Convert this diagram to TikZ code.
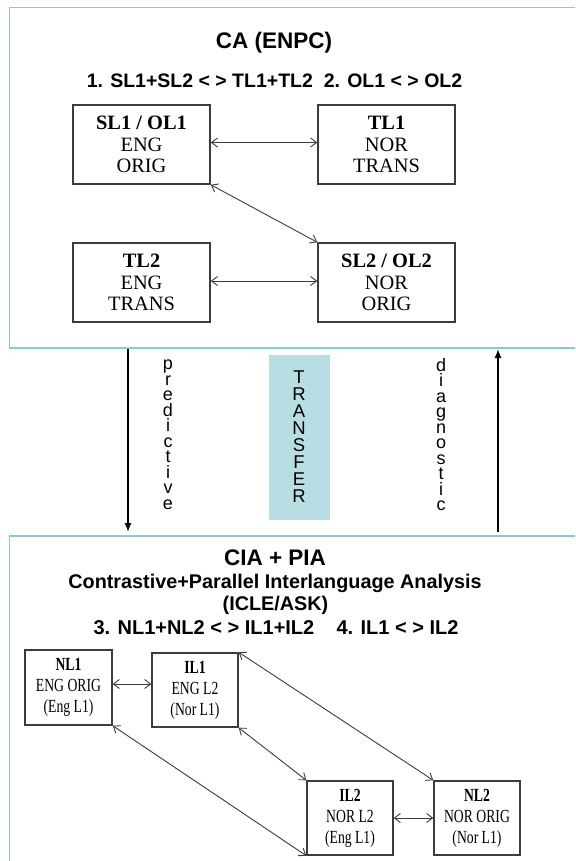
\documentclass[tikz,border=0pt]{standalone}
\usepackage{fontspec}
\setmainfont{Liberation Serif}
\setsansfont{Liberation Sans}
\newfontfamily\condserif[FakeStretch=0.74]{Liberation Serif}
\usetikzlibrary{arrows.meta,calc}
\definecolor{framec}{RGB}{140,202,207}
\definecolor{transc}{RGB}{183,223,227}
\definecolor{boxc}{RGB}{60,60,60}
\begin{document}
\begin{tikzpicture}[x=1pt,y=-1pt,
  frame/.style={draw=framec,line width=1.5pt},
  topbox/.style={draw=boxc,line width=1.5pt,minimum width=137pt,minimum height=79pt,inner sep=0pt,align=center,
    font=\fontsize{20.4}{21.5}\selectfont},
  botbox/.style={draw=boxc,line width=1.4pt,minimum width=86pt,minimum height=74pt,inner sep=0pt,align=center,
    font=\condserif\fontsize{18.5}{21}\selectfont},
  link/.style={draw=boxc,line width=0.9pt,{Straight Barb[length=6pt,width=9pt]}-{Straight Barb[length=6pt,width=9pt]}},
  bigarrow/.style={draw=black,line width=1.3pt,-{Latex[length=9pt,width=7pt]}},
  head/.style={font=\sffamily\bfseries\fontsize{22.5}{24}\selectfont,inner sep=0pt},
  sub/.style={font=\sffamily\bfseries\fontsize{19.8}{22}\selectfont,inner sep=0pt},
  vstack/.style={align=center,inner sep=0pt,font=\sffamily\fontsize{18}{15.5}\selectfont}
]
\useasboundingbox (0,0) rectangle (575,861);
\clip (0,0) rectangle (575,861);
\fill[white] (0,0) rectangle (575,861);
% frames
\draw[frame] (9.5,7.5) rectangle (600,348);
\draw[frame] (9.5,536) rectangle (600,900);
% top headings
\node[head] (tca) at (274,43) {CA (ENPC)};
\node[sub,font=\sffamily\bfseries\fontsize{19.5}{22}\selectfont] (tl1) at (274.5,81) {1. SL1+SL2 < > TL1+TL2\ \ 2. OL1 < > OL2};
% top boxes
\node[topbox] (SL1) at (141.5,144.5) {\textbf{SL1 / OL1}\\ENG\\ORIG};
\node[topbox] (TL1) at (386.5,144.5) {\textbf{TL1}\\NOR\\TRANS};
\node[topbox] (TL2) at (141.5,282.5) {\textbf{TL2}\\ENG\\TRANS};
\node[topbox] (SL2) at (386.5,282.5) {\textbf{SL2 / OL2}\\NOR\\ORIG};
\draw[link] ([yshift=2pt]SL1.east) -- ([yshift=2pt]SL1.east -| TL1.west);
\draw[link] (SL1.south east) -- (SL2.north west);
\draw[link] ([yshift=1.5pt]TL2.east) -- ([yshift=1.5pt]TL2.east -| SL2.west);
% middle
\coordinate (pa) at (128,349);
\coordinate (pb) at (128,532);
\coordinate (da) at (498,532);
\coordinate (db) at (498,349);
\draw[bigarrow] (pa) -- (pb);
\draw[bigarrow] (da) -- (db);
\node[vstack] (pred) at (168,434.5) {p\\r\\e\\d\\i\\c\\t\\i\\v\\e};
\node[vstack] (diag) at (441,434.5) {d\\i\\a\\g\\n\\o\\s\\t\\i\\c};
\node[fill=transc,minimum width=61pt,minimum height=165pt,inner sep=0pt] (trbox) at (299.5,437.5) {};
\node[vstack,font=\sffamily\fontsize{18.5}{17}\selectfont] (trans) at (299,436.5) {T\\R\\A\\N\\S\\F\\E\\R};
% bottom headings
\node[head] (tcia) at (275,558) {CIA + PIA};
\node[sub] (tcon) at (275,583) {Contrastive+Parallel Interlanguage Analysis};
\node[sub] (ticle) at (275.5,605) {(ICLE/ASK)};
\node[sub,font=\sffamily\bfseries\fontsize{20}{22}\selectfont] (tl3) at (276,628) {3. NL1+NL2 < > IL1+IL2\ \ \ \ 4. IL1 < > IL2};
% bottom boxes
\node[botbox,minimum width=87pt,minimum height=75pt] (NL1) at (68.5,687.5) {\textbf{NL1}\\ENG ORIG\\(Eng L1)};
\node[botbox] (IL1) at (195,690) {\textbf{IL1}\\ENG L2\\(Nor L1)};
\node[botbox] (IL2) at (350,818) {\textbf{IL2}\\NOR L2\\(Eng L1)};
\node[botbox] (NL2) at (477,818) {\textbf{NL2}\\NOR ORIG\\(Nor L1)};
\draw[link] ([yshift=3.5pt]NL1.east) -- ([yshift=3.5pt]NL1.east -| IL1.west);
\draw[link] (IL1.north east) -- (NL2.north west);
\draw[link] (IL1.south east) -- (IL2.north west);
\draw[link] (NL1.south east) -- (IL2.south west);
\draw[link] (IL2.east) -- (NL2.west);
\end{tikzpicture}
\end{document}
